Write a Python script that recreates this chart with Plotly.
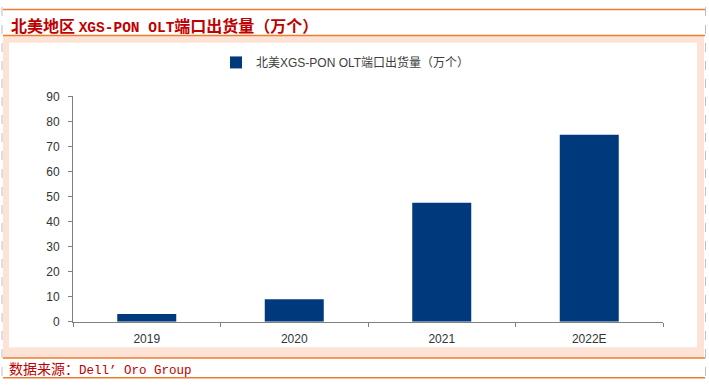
import plotly.graph_objects as go

categories = ["2019", "2020", "2021", "2022E"]
values = [3.1, 9.0, 47.5, 74.7]
series_name = "北美XGS-PON OLT端口出货量（万个）"
title_parts = ["北美地区 ", "XGS-PON OLT", "端口出货量（万个）"]
source_parts = ["数据来源：", "Dell’ Oro Group"]
y_ticks = [0, 10, 20, 30, 40, 50, 60, 70, 80, 90]

W, H = 709, 390
def px(x):
    return x / W
def py(y):
    return 1 - y / H

fig = go.Figure()
fig.add_trace(go.Bar(
    x=categories, y=values, name=series_name,
    marker=dict(color="#003A7D", line=dict(width=0)),
    showlegend=True,
))

orange = "#ED7D31"
peach = "#FDE3D6"
shapes = [
    dict(type="rect", xref="paper", yref="paper", x0=px(3), x1=px(704), y0=py(364), y1=py(30),
         fillcolor=peach, line=dict(width=0), layer="below"),
    dict(type="rect", xref="paper", yref="paper", x0=px(9), x1=px(697), y0=py(353), y1=py(37),
         fillcolor="white", line=dict(width=0), layer="below"),
    dict(type="line", xref="paper", yref="paper", x0=px(3), x1=px(705), y0=py(2.5), y1=py(2.5),
         line=dict(color=orange, width=1.5), layer="below"),
    dict(type="line", xref="paper", yref="paper", x0=px(3), x1=px(705), y0=py(29.5), y1=py(29.5),
         line=dict(color=orange, width=1.5), layer="below"),
    dict(type="line", xref="paper", yref="paper", x0=px(3), x1=px(705), y0=py(364), y1=py(364),
         line=dict(color=orange, width=1.5), layer="below"),
    dict(type="line", xref="paper", yref="paper", x0=px(3), x1=px(705), y0=py(384.5), y1=py(384.5),
         line=dict(color=orange, width=1.5), layer="below"),
    dict(type="line", xref="paper", yref="paper", x0=px(2), x1=px(2), y0=py(0), y1=py(390),
         line=dict(color="#BFBFBF", width=1, dash="dash"), layer="below"),
    dict(type="line", xref="paper", yref="paper", x0=px(705.5), x1=px(705.5), y0=py(0), y1=py(390),
         line=dict(color="#BFBFBF", width=1, dash="dash"), layer="below"),
]

title_html = (title_parts[0]
              + '<span style="font-family:Liberation Mono;font-size:14.5px">' + title_parts[1] + '</span>'
              + title_parts[2])
source_html = (source_parts[0]
               + '<span style="font-family:Liberation Mono;font-size:12.5px">' + source_parts[1] + '</span>')

annotations = [
    dict(text=title_html, xref="paper", yref="paper", x=px(9), y=py(19), xanchor="left", yanchor="middle",
         showarrow=False, font=dict(family="Noto Sans CJK SC", size=16, color="#C00000", weight="bold")),
    dict(text=source_html, xref="paper", yref="paper", x=px(7), y=py(374.5), xanchor="left", yanchor="middle",
         showarrow=False, font=dict(family="Noto Sans CJK SC", size=14, color="#C00000")),
]

fig.update_layout(
    width=W, height=H,
    margin=dict(l=0, r=0, t=0, b=0),
    paper_bgcolor="white",
    plot_bgcolor="rgba(0,0,0,0)",
    shapes=shapes,
    annotations=annotations,
    bargap=0.6,
    showlegend=True,
    legend=dict(orientation="h", x=px(216), y=py(57.5), xanchor="left", yanchor="middle",
                font=dict(family="Liberation Sans, Noto Sans CJK SC", size=12, color="#404040"),
                bgcolor="rgba(0,0,0,0)"),
    xaxis=dict(
        domain=[px(73), px(663)],
        type="category",
        showline=True, linecolor="#7F7F7F", linewidth=1,
        ticks="outside", tickson="boundaries", ticklen=4, tickcolor="#7F7F7F",
        tickfont=dict(family="Liberation Sans, Arial", size=12, color="#333333"),
        showgrid=False, zeroline=False,
        ticklabelstandoff=6,
    ),
    yaxis=dict(
        domain=[py(326.5), py(92.7)],
        range=[0, 90],
        tickvals=y_ticks,
        showline=True, linecolor="#7F7F7F", linewidth=1,
        ticks="outside", ticklen=4, tickcolor="#7F7F7F",
        tickfont=dict(family="Liberation Sans, Arial", size=12, color="#333333"),
        showgrid=False, zeroline=False,
        ticklabelstandoff=6,
    ),
)

fig.write_html(
    "out.html",
    config={"displayModeBar": False},
    post_script="document.body.style.margin='0';",
)
